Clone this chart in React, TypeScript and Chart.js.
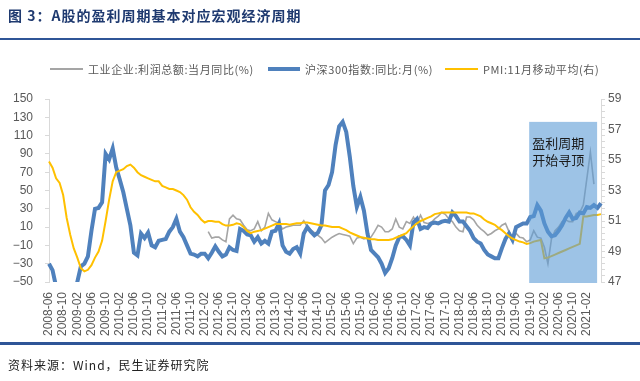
import React, { useEffect, useRef } from "react";
import { Chart, registerables } from "chart.js";
Chart.register(...registerables);

// ---- categories: monthly, 2008-06 .. 2021-06
const START_YEAR = 2008;
const START_MONTH = 6;
const MONTH_COUNT = 157;
const MONTHS: string[] = [];
for (let i = 0; i < MONTH_COUNT; i++) {
  const m = START_MONTH - 1 + i;
  MONTHS.push(`${START_YEAR + Math.floor(m / 12)}-${String((m % 12) + 1).padStart(2, "0")}`);
}
const LAST_TICK_LABEL = "2021-02";
const TICK_EVERY = 4;

// ---- series
const HS300_YOY: number[] = [
  -30, -37, -55, -62, -68, -70, -66, -60, -50, -33,
  -30, -22, 6, 30, 31, 37, 90, 84, 96, 75,
  62, 48, 30, 12, -18, -21, 3, -2, 4, -10,
  -12, -5, -4, -3, 5, 10, 19, 5, -1, -10,
  -19, -20, -22, -19, -19, -24, -18, -11, -17, -22,
  -20, -12, -15, -16, 8, 6, 2, 1, -6, -1,
  -8, -5, -8, 5, 6, 14, -10, -17, -19, -14,
  -12, -19, 3, 10, 5, 1, 4, 12, 50, 56,
  70, 100, 120, 125, 114, 87, 55, 32, 43, 28,
  3, -15, -19, -23, -30, -40, -35, -24, -10, -1,
  0, -4, -10, 15, 19, 8, 10, 9, 14, 15,
  14, 16, 17, 16, 26, 22, 16, 16, 11, 6,
  -2, -6, -8, -15, -20, -22, -24, -24, -13, -3,
  3, -4, 10, 12, 14, 14, 21, 22, 34, 28,
  14, 5, 0, 1, 6, 12, 20, 26, 19, 20,
  26, 25, 32, 31, 34, 31, 36,
];

const PROFIT_YOY: (number | null)[] = [
  null, null, null, null, null, null, null, null, null, null,
  null, null, null, null, null, null, null, null, null, null,
  null, null, null, null, null, null, null, null, null, null,
  null, null, null, null, null, null, null, null, null, null,
  null, null, null, null, null, 5, -2, -1, -1, -4,
  -6, 19, 23, 19, 18, 12, 7, 6, 8, 16,
  6, 10, 25, 18, 16, 14, 8, 10, 11, 12,
  12, 12, 17, 10, 7, 4, 1, -2, -7, -4,
  -1, 1, 3, 2, 1, 0, -8, -2, -1, -3,
  -2, -1, 5, 12, 10, 5, 5, 8, 19, 10,
  8, 16, 14, 21, 14, 23, 15, 14, 15, 19,
  22, 26, 24, 19, 16, 10, 6, 5, 21, 21,
  18, 12, 8, 5, 1, 3, 6, 8, 12, 14,
  5, -1, 3, -1, -2, -6, -4, 6, -1, -2,
  -12, -30, -3, 6, 10, 16, 18, 16, 16, 25,
  26, 34, 63, 92, 57, null, null,
];

const PMI_MA11: number[] = [
  54.9, 54.5, 53.8, 53.5, 52.7, 51.2, 50.1, 49.2, 48.6, 47.9,
  47.7, 47.8, 48.1, 48.6, 49.0, 49.7, 51.0, 52.4, 53.6, 54.2,
  54.3, 54.4, 54.6, 54.7, 54.5, 54.2, 54.0, 53.9, 53.8, 53.7,
  53.6, 53.6, 53.3, 53.2, 53.1, 53.1, 53.0, 52.9, 52.7, 52.4,
  51.9, 51.6, 51.4, 51.1, 50.9, 51.0, 51.0, 50.95, 50.95, 50.8,
  50.7, 50.7, 50.75, 50.85, 50.8, 50.6, 50.35, 50.2, 50.3, 50.35,
  50.4, 50.5, 50.6, 50.7, 50.8, 50.8, 50.8, 50.8, 50.75, 50.8,
  50.85, 50.85, 50.9, 50.9, 50.85, 50.8, 50.75, 50.7, 50.7, 50.65,
  50.6, 50.6, 50.6, 50.5, 50.4, 50.25, 50.15, 50.05, 49.95, 49.9,
  49.85, 49.8, 49.8, 49.75, 49.75, 49.75, 49.75, 49.8, 49.9, 50.0,
  50.1, 50.2, 50.45, 50.65, 50.85, 51.0, 51.1, 51.2, 51.3, 51.45,
  51.5, 51.55, 51.55, 51.55, 51.55, 51.55, 51.55, 51.55, 51.55, 51.5,
  51.5, 51.4, 51.3, 51.1, 50.95, 50.85, 50.75, 50.55, 50.4, 50.2,
  50.0, 49.85, 49.75, 49.65, 49.6, 49.5, 49.55, 49.65, 49.7, 49.75,
  48.55, 48.6, 48.7, 48.8, 48.9, 49.0, 49.1, 49.2, 49.3, 49.4,
  49.5, 51.3, 51.3, 51.35, 51.4, 51.4, 51.45,
];

const SERIES_NAMES = ["工业企业:利润总额:当月同比(%)", "沪深300指数:同比:月(%)", "PMI:11月移动平均(右)"];
const LEFT_MIN = -50, LEFT_MAX = 150, LEFT_STEP = 20;
const RIGHT_MIN = 47, RIGHT_MAX = 59, RIGHT_STEP = 0.4;

// annotation box (category index range, left-axis top)
const BOX_FROM = 135.7;
const BOX_TO = 154.9;
const BOX_TOP = 125;
const BOX_TEXT = ["盈利周期", "开始寻顶"];

const NARROW = '"Liberation Sans Narrow", "Arial Narrow", "Liberation Sans", Arial, sans-serif';
const CJK = '"Noto Sans CJK SC", "Noto Sans", sans-serif';

const boxPlugin = {
  id: "boxNote",
  afterDatasetsDraw(chart: any) {
    const { ctx, chartArea, scales } = chart;
    const x0 = scales.x.getPixelForValue(BOX_FROM);
    const x1 = scales.x.getPixelForValue(BOX_TO);
    const y0 = scales.y.getPixelForValue(BOX_TOP);
    const y1 = chartArea.bottom + 1;
    ctx.save();
    ctx.fillStyle = "rgba(91,155,213,0.6)";
    ctx.fillRect(x0, y0, x1 - x0, y1 - y0);
    ctx.fillStyle = "#1a1a1a";
    ctx.font = `13px ${CJK}`;
    ctx.textBaseline = "middle";
    ctx.textAlign = "left";
    BOX_TEXT.forEach((t, i) => ctx.fillText(t, x0 + 3, y0 + 21 + i * 17));
    ctx.restore();
  },
};

export default function App() {
  const ref = useRef<HTMLCanvasElement>(null);
  useEffect(() => {
    const chart = new Chart(ref.current!, {
      type: "line",
      data: {
        labels: MONTHS,
        datasets: [
          { label: SERIES_NAMES[0], data: PROFIT_YOY, yAxisID: "y", borderColor: "#A5A5A5", borderWidth: 1.6, pointRadius: 0, tension: 0, order: 3 },
          { label: SERIES_NAMES[1], data: HS300_YOY, yAxisID: "y", borderColor: "#4F81BD", borderWidth: 4, pointRadius: 0, tension: 0, order: 2 },
          { label: SERIES_NAMES[2], data: PMI_MA11, yAxisID: "y1", borderColor: "#FFC000", borderWidth: 2, pointRadius: 0, tension: 0, order: 1 },
        ],
      },
      options: {
        animation: false,
        responsive: false,
        layout: { padding: { top: 99, left: 0, right: 0, bottom: 0 } },
        plugins: { legend: { display: false }, tooltip: { enabled: false } },
        scales: {
          x: {
            type: "category",
            grid: { display: false, drawTicks: false },
            border: { display: false },
            ticks: {
              autoSkip: false, minRotation: 90, maxRotation: 90, padding: 10,
              color: "#595959", font: { family: NARROW, size: 12 },
              callback: (_v: any, i: number) =>
                i % TICK_EVERY === 0 && i <= MONTHS.indexOf(LAST_TICK_LABEL) ? MONTHS[i] : "",
            },
            afterFit: (s: any) => { s.height = 99; },
          },
          y: {
            position: "left", min: LEFT_MIN, max: LEFT_MAX,
            ticks: {
              stepSize: LEFT_STEP, padding: 12, color: "#595959", font: { family: NARROW, size: 12 },
              autoSkip: false,
              callback: (v: any) => String(v).replace("-", "\u2212"),
            },
            grid: {
              color: (c: any) => (c.tick && c.tick.value === 0 ? "#BFBFBF" : "rgba(0,0,0,0)"),
              tickColor: "#D9D9D9", tickLength: 4, lineWidth: 1,
            },
            border: { display: true, color: "#D9D9D9" },
            afterFit: (s: any) => { s.width = 49; },
          },
          y1: {
            position: "right", min: RIGHT_MIN, max: RIGHT_MAX,
            ticks: {
              stepSize: RIGHT_STEP, padding: 3, color: "#595959", font: { family: NARROW, size: 12 },
              autoSkip: false,
              callback: (v: any) => {
                const r = Math.round(v);
                return Math.abs(v - r) < 1e-6 && r % 2 === 1 ? String(r) : "";
              },
            },
            grid: { drawOnChartArea: false, tickColor: "#D9D9D9", tickLength: 4 },
            border: { display: true, color: "#D9D9D9" },
            afterFit: (s: any) => { s.width = 39; },
          },
        },
      },
      plugins: [boxPlugin],
    });
    return () => chart.destroy();
  }, []);

  const legendText: React.CSSProperties = {
    position: "absolute", top: 61, fontFamily: CJK, fontSize: 11, color: "#595959",
    letterSpacing: "0.6px", whiteSpace: "nowrap", lineHeight: "16px",
  };
  return (
    <div style={{ position: "fixed", left: 0, top: 0, width: 640, height: 381, background: "#fff", overflow: "hidden" }}>
      <canvas ref={ref} width={640} height={381} style={{ position: "absolute", left: 0, top: 0, width: 640, height: 381 }} />
      <div style={{ position: "absolute", left: 8, top: 6, fontFamily: CJK, fontWeight: 700, fontSize: 14, letterSpacing: "1px", color: "#1F3A70", lineHeight: "18px", whiteSpace: "nowrap" }}>
        图 3：A股的盈利周期基本对应宏观经济周期
      </div>
      <div style={{ position: "absolute", left: 0, top: 38, width: 640, height: 2, background: "#2F5597" }} />
      <div style={{ position: "absolute", left: 50, top: 68, width: 33, height: 2, background: "#A5A5A5" }} />
      <div style={{ ...legendText, left: 88 }}>{SERIES_NAMES[0]}</div>
      <div style={{ position: "absolute", left: 268, top: 67, width: 32, height: 4, background: "#4F81BD" }} />
      <div style={{ ...legendText, left: 305 }}>{SERIES_NAMES[1]}</div>
      <div style={{ position: "absolute", left: 445, top: 68, width: 33, height: 2, background: "#FFC000" }} />
      <div style={{ ...legendText, left: 483 }}>{SERIES_NAMES[2]}</div>
      <div style={{ position: "absolute", left: 0, top: 342, width: 640, height: 3, background: "#2F5597" }} />
      <div style={{ position: "absolute", left: 8, top: 356, fontFamily: CJK, fontSize: 12, letterSpacing: "1px", color: "#222", lineHeight: "18px", whiteSpace: "nowrap" }}>
        资料来源：Wind，民生证券研究院
      </div>
    </div>
  );
}
